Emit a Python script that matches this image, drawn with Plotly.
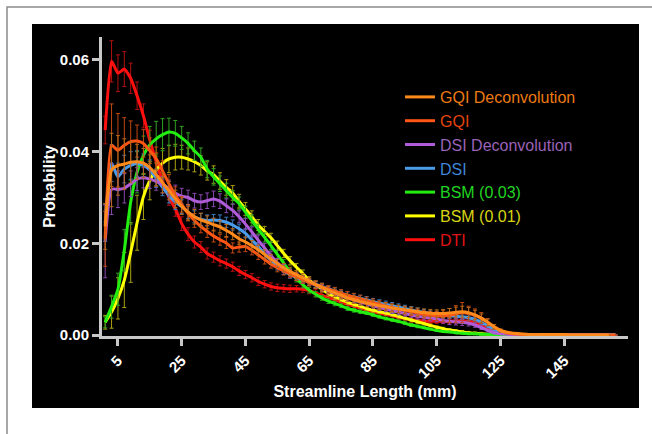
import plotly.graph_objects as go

# Bin centres (mm)
length_mm = [1, 3, 5, 7, 9, 11, 13, 15, 17, 19,
             21, 23, 25, 27, 29, 31, 33, 35, 37, 39,
             41, 43, 45, 47, 49, 51, 53, 55, 57, 59,
             61, 63, 65, 67, 69, 71, 73, 75, 77, 79,
             81, 83, 85, 87, 89, 91, 93, 95, 97, 99,
             101, 103, 105, 107, 109, 111, 113, 115, 117, 119,
             121, 123, 125, 127, 129, 131, 133, 135, 137, 139,
             141, 143, 145, 147, 149, 151, 153, 155, 157, 159,
             161]

dti = [.0447, .0597, .0571, .0580, .0560, .0522, .0478, .0425, .0378, .0335,
       .0300, .0275, .0243, .0220, .0203, .0192, .0178, .0170, .0162, .0156,
       .0149, .0140, .0132, .0125, .0117, .0111, .0106, .0103, .0102, .0101,
       .0101, .0100, .0097, .0092, .0087, .0082, .0077, .0072, .0067, .0063,
       .0059, .0055, .0051, .0048, .0045, .0042, .0039, .0036, .0034, .0032,
       .0031, .0030, .0030, .0030, .0030, .0031, .0031, .0030, .0027, .0021,
       .0014, .0008, .0004, .0002, .0001, .0001, 0, 0, 0, 0,
       0, 0, 0, 0, 0, 0, 0, 0, 0, 0,
       0]
dti_err = [.0030, .0045, .0040, .0038, .0033, .0030, .0026, .0022, .0020, .0018,
           .0017, .0016, .0015, .0014, .0013, .0012, .0012, .0011, .0011, .0010,
           .0010, .0010, .0009, .0009, .0009, .0008, .0008, .0008, .0008, .0008,
           .0007, .0007, .0007, .0007, .0007, .0007, .0007, .0007, .0007, .0007,
           .0006, .0006, .0006, .0006, .0006, .0006, .0006, .0006, .0006, .0006,
           .0005, .0005, .0005, .0005, .0005, .0005, .0005, .0005, .0005, .0005,
           .0004, .0003, .0002, .0001, .0001, 0, 0, 0, 0, 0,
           0, 0, 0, 0, 0, 0, 0, 0, 0, 0,
           0]

bsm001 = [.0028, .0050, .0080, .0120, .0180, .0245, .0302, .0337, .0360, .0375,
          .0384, .0388, .0388, .0384, .0378, .0370, .0358, .0350, .0336, .0322,
          .0310, .0292, .0275, .0258, .0240, .0226, .0212, .0195, .0178, .0162,
          .0148, .0134, .0120, .0110, .0100, .0091, .0084, .0078, .0072, .0067,
          .0063, .0058, .0054, .0051, .0048, .0045, .0041, .0037, .0033, .0029,
          .0025, .0021, .0017, .0014, .0011, .0009, .0007, .0005, .0004, .0003,
          .0002, .0002, .0001, .0001, .0001, 0, 0, 0, 0, 0,
          0, 0, 0, 0, 0, 0, 0, 0, 0, 0,
          0]
bsm001_err = [.0015, .0035, .0045, .0060, .0065, .0060, .0050, .0042, .0035, .0032,
              .0030, .0028, .0026, .0024, .0022, .0021, .0020, .0019, .0018, .0017,
              .0016, .0015, .0014, .0013, .0012, .0011, .0010, .0010, .0009, .0009,
              .0008, .0008, .0007, .0007, .0006, .0006, .0006, .0005, .0005, .0005,
              .0004, .0004, .0004, .0004, .0004, .0004, .0004, .0004, .0004, .0004,
              .0003, .0003, .0003, .0003, .0003, .0003, .0003, .0003, .0003, .0003,
              .0001, .0001, .0001, .0001, .0001, 0, 0, 0, 0, 0,
              0, 0, 0, 0, 0, 0, 0, 0, 0, 0,
              0]

bsm003 = [.0028, .0062, .0100, .0185, .0290, .0355, .0392, .0415, .0428, .0437,
          .0443, .0440, .0430, .0418, .0402, .0388, .0362, .0345, .0330, .0315,
          .0300, .0287, .0268, .0250, .0231, .0213, .0195, .0176, .0157, .0138,
          .0123, .0110, .0098, .0089, .0081, .0074, .0069, .0064, .0058, .0054,
          .0051, .0048, .0044, .0040, .0036, .0033, .0030, .0026, .0022, .0019,
          .0016, .0013, .0010, .0008, .0007, .0005, .0004, .0003, .0003, .0002,
          .0002, .0001, .0001, .0001, 0, 0, 0, 0, 0, 0,
          0, 0, 0, 0, 0, 0, 0, 0, 0, 0,
          0]
bsm003_err = [.0012, .0025, .0035, .0045, .0048, .0045, .0042, .0040, .0038, .0035,
              .0030, .0028, .0025, .0023, .0021, .0020, .0019, .0018, .0017, .0016,
              .0015, .0014, .0013, .0012, .0011, .0010, .0009, .0009, .0008, .0008,
              .0007, .0007, .0006, .0006, .0005, .0005, .0005, .0004, .0004, .0004,
              .0004, .0003, .0003, .0003, .0003, .0003, .0003, .0003, .0003, .0003,
              .0002, .0002, .0002, .0002, .0002, .0002, .0002, .0002, .0002, .0002,
              .0001, .0001, .0001, .0001, 0, 0, 0, 0, 0, 0,
              0, 0, 0, 0, 0, 0, 0, 0, 0, 0,
              0]

dsi = [.0244, .0375, .0345, .0362, .0370, .0374, .0370, .0360, .0342, .0322,
       .0305, .0290, .0280, .0268, .0258, .0252, .0250, .0251, .0250, .0246,
       .0240, .0232, .0222, .0208, .0193, .0178, .0163, .0150, .0140, .0132,
       .0126, .0121, .0116, .0111, .0106, .0101, .0096, .0091, .0087, .0083,
       .0080, .0077, .0073, .0070, .0067, .0064, .0061, .0058, .0055, .0052,
       .0050, .0047, .0045, .0043, .0042, .0041, .0040, .0038, .0034, .0028,
       .0020, .0012, .0006, .0003, .0002, .0001, 0, 0, 0, 0,
       0, 0, 0, 0, 0, 0, 0, 0, 0, 0,
       0]
dsi_err = [.0040, .0040, .0030, .0030, .0030, .0028, .0025, .0022, .0020, .0018,
           .0017, .0016, .0015, .0014, .0013, .0013, .0012, .0012, .0012, .0011,
           .0011, .0010, .0010, .0010, .0009, .0009, .0009, .0008, .0008, .0008,
           .0007, .0007, .0007, .0007, .0007, .0007, .0007, .0007, .0007, .0007,
           .0007, .0007, .0007, .0007, .0007, .0007, .0007, .0007, .0007, .0007,
           .0006, .0006, .0006, .0006, .0006, .0006, .0006, .0006, .0006, .0005,
           .0003, .0002, .0001, .0001, 0, 0, 0, 0, 0, 0,
           0, 0, 0, 0, 0, 0, 0, 0, 0, 0,
           0]

dsi_deconv = [.0205, .0318, .0318, .0320, .0330, .0340, .0343, .0340, .0335, .0328,
              .0320, .0310, .0303, .0300, .0293, .0290, .0293, .0297, .0292, .0282,
              .0272, .0258, .0242, .0225, .0207, .0190, .0173, .0158, .0145, .0135,
              .0128, .0121, .0115, .0109, .0103, .0097, .0091, .0086, .0081, .0077,
              .0072, .0068, .0064, .0060, .0057, .0053, .0050, .0047, .0044, .0041,
              .0039, .0037, .0035, .0032, .0030, .0029, .0028, .0026, .0022, .0016,
              .0010, .0005, .0003, .0002, .0001, 0, 0, 0, 0, 0,
              0, 0, 0, 0, 0, 0, 0, 0, 0, 0,
              0]
dsi_deconv_err = [.0080, .0055, .0040, .0032, .0028, .0025, .0022, .0020, .0019, .0018,
                  .0018, .0017, .0017, .0016, .0016, .0016, .0017, .0017, .0016, .0015,
                  .0014, .0013, .0012, .0011, .0011, .0010, .0010, .0009, .0009, .0008,
                  .0008, .0008, .0007, .0007, .0007, .0007, .0007, .0007, .0007, .0007,
                  .0006, .0006, .0006, .0006, .0006, .0006, .0006, .0006, .0006, .0006,
                  .0006, .0006, .0006, .0006, .0007, .0007, .0007, .0006, .0005, .0004,
                  .0003, .0002, .0001, .0001, 0, 0, 0, 0, 0, 0,
                  0, 0, 0, 0, 0, 0, 0, 0, 0, 0,
                  0]

gqi = [.0210, .0414, .0403, .0414, .0422, .0423, .0418, .0402, .0385, .0358,
       .0330, .0305, .0285, .0265, .0250, .0237, .0226, .0216, .0208, .0201,
       .0190, .0192, .0193, .0185, .0175, .0165, .0155, .0147, .0140, .0133,
       .0127, .0121, .0115, .0110, .0105, .0100, .0096, .0091, .0087, .0083,
       .0079, .0075, .0071, .0067, .0063, .0060, .0057, .0054, .0051, .0048,
       .0045, .0043, .0042, .0042, .0043, .0046, .0049, .0047, .0043, .0037,
       .0028, .0018, .0010, .0005, .0003, .0002, .0001, 0, 0, 0,
       0, 0, 0, 0, 0, 0, 0, 0, 0, 0,
       0]
gqi_err = [.0060, .0090, .0080, .0060, .0045, .0035, .0030, .0028, .0025, .0022,
           .0020, .0018, .0017, .0016, .0015, .0014, .0013, .0013, .0012, .0012,
           .0011, .0011, .0011, .0010, .0010, .0010, .0009, .0009, .0009, .0008,
           .0008, .0008, .0008, .0008, .0008, .0008, .0008, .0008, .0008, .0008,
           .0008, .0008, .0008, .0008, .0008, .0008, .0008, .0008, .0008, .0008,
           .0008, .0009, .0010, .0012, .0015, .0018, .0022, .0016, .0014, .0012,
           .0008, .0005, .0003, .0002, .0001, 0, 0, 0, 0, 0,
           0, 0, 0, 0, 0, 0, 0, 0, 0, 0,
           0]

gqi_deconv = [.0237, .0360, .0370, .0373, .0377, .0378, .0375, .0365, .0350, .0332,
              .0315, .0297, .0281, .0268, .0258, .0251, .0246, .0241, .0236, .0228,
              .0220, .0210, .0203, .0195, .0186, .0176, .0166, .0156, .0147, .0139,
              .0132, .0125, .0118, .0110, .0104, .0098, .0092, .0087, .0081, .0077,
              .0073, .0070, .0067, .0064, .0062, .0059, .0057, .0055, .0053, .0051,
              .0049, .0048, .0047, .0047, .0048, .0050, .0051, .0049, .0044, .0037,
              .0028, .0018, .0010, .0006, .0004, .0003, .0002, .0001, .0001, .0001,
              .0001, .0001, .0001, 0, 0, 0, 0, 0, 0, 0,
              None]
gqi_deconv_err = [.0050, .0080, .0065, .0055, .0045, .0038, .0032, .0028, .0025, .0022,
                  .0020, .0019, .0018, .0017, .0016, .0015, .0014, .0014, .0013, .0013,
                  .0012, .0012, .0011, .0011, .0010, .0010, .0010, .0009, .0009, .0009,
                  .0009, .0009, .0009, .0008, .0008, .0008, .0008, .0008, .0008, .0008,
                  .0008, .0008, .0008, .0008, .0008, .0008, .0008, .0008, .0008, .0008,
                  .0008, .0008, .0008, .0009, .0010, .0011, .0012, .0011, .0010, .0009,
                  .0007, .0005, .0003, .0002, .0001, 0, 0, 0, 0, 0,
                  0, 0, 0, 0, 0, 0, 0, 0, 0, 0,
                  0]

x_ticks = [5, 25, 45, 65, 85, 105, 125, 145]
y_ticks = [0.00, 0.02, 0.04, 0.06]
y_ticktext = ["0.00", "0.02", "0.04", "0.06"]

# drawn bottom -> top (legend shown reversed)
series = [
    ("DTI", dti, dti_err, "#FF1010", "#B01010", "#E01414"),
    ("BSM (0.01)", bsm001, bsm001_err, "#FFFF00", "#A8A010", "#D8D414"),
    ("BSM (0.03)", bsm003, bsm003_err, "#22EE11", "#30A020", "#22D422"),
    ("DSI", dsi, dsi_err, "#4A9BEA", "#3A78C0", "#3F84D6"),
    ("DSI Deconvolution", dsi_deconv, dsi_deconv_err, "#B05CD8", "#8848B0", "#9A62B8"),
    ("GQI", gqi, gqi_err, "#FF5515", "#C04810", "#E2440C"),
    ("GQI Deconvolution", gqi_deconv, gqi_deconv_err, "#FF8A1C", "#B86818", "#EC7A12"),
]

FONT = "Liberation Sans, Arial, Helvetica, sans-serif"

fig = go.Figure()
for name, ys, err, col, ecol, tcol in series:
    fig.add_trace(go.Scatter(
        x=length_mm, y=ys, mode="lines",
        name=f"<span style='color:{tcol}'>{name}</span>",
        line=dict(color=col, width=3, shape="spline", smoothing=0.5),
        error_y=dict(type="data", array=err, visible=True,
                     color=ecol, thickness=1, width=2),
    ))

# pixel geometry helpers
L, R, T, B = 102, 628, 37, 336
def px(x):
    return (x - L) / (R - L)
def py(y):
    return (B - y) / (B - T)

shapes = [
    dict(type="rect", xref="paper", yref="paper", layer="below",
         x0=px(7), x1=px(670), y0=py(450), y1=py(7),
         line=dict(color="#8c8c8c", width=1.5), fillcolor="white"),
    dict(type="rect", xref="paper", yref="paper", layer="below",
         x0=px(32), x1=px(639), y0=py(408), y1=py(24),
         line=dict(width=0), fillcolor="black"),
]

axis_col = "#c8c8c8"
fig.update_layout(
    width=652, height=434, autosize=False,
    margin=dict(l=L, r=652 - R, t=T, b=434 - B, autoexpand=False),
    paper_bgcolor="white", plot_bgcolor="black",
    shapes=shapes,
    font=dict(family=FONT, color="white"),
    showlegend=True,
    legend=dict(
        x=px(400), y=py(80), xanchor="left", yanchor="top",
        bgcolor="rgba(0,0,0,0)", borderwidth=0,
        traceorder="reversed",
        font=dict(family=FONT, size=16, color="white"),
        itemwidth=30,
    ),
    xaxis=dict(
        range=[0, 165], tickmode="array", tickvals=x_ticks,
        ticks="outside", ticklen=7, tickwidth=2.5, tickcolor=axis_col,
        showline=True, linecolor=axis_col, linewidth=3,
        showgrid=False, zeroline=False, tickangle=-45, automargin=False,
        tickfont=dict(family=FONT, size=15, color="white", weight="bold"),
        title=dict(text="Streamline Length (mm)", standoff=6,
                   font=dict(family=FONT, size=16, color="white", weight="bold")),
        layer="below traces",
    ),
    yaxis=dict(
        range=[-0.0002, 0.065], tickmode="array", tickvals=y_ticks,
        ticktext=y_ticktext, automargin=False,
        ticks="outside", ticklen=7, tickwidth=2.5, tickcolor=axis_col,
        showline=True, linecolor=axis_col, linewidth=3,
        showgrid=False, zeroline=False,
        tickfont=dict(family=FONT, size=15, color="white", weight="bold"),
        title=dict(text="Probability", standoff=1,
                   font=dict(family=FONT, size=16, color="white", weight="bold")),
        layer="below traces",
    ),
)

fig.write_html("out.html", config={"displayModeBar": False},
               post_script="document.body.style.margin='0';document.body.style.overflow='hidden';")
